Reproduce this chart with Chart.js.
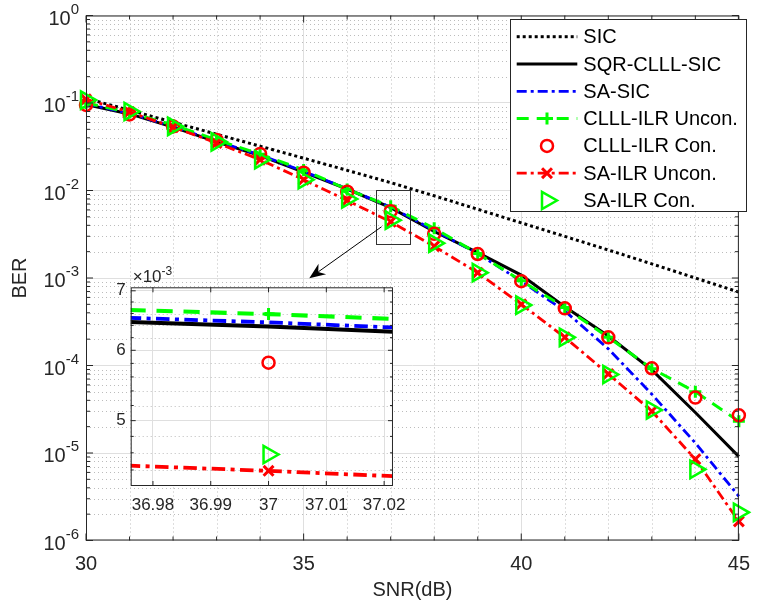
<!DOCTYPE html>
<html>
<head>
<meta charset="utf-8">
<title>BER vs SNR</title>
<script src="https://cdn.jsdelivr.net/npm/chart.js@4.4.1/dist/chart.umd.min.js"></script>
<style>
  html, body { margin: 0; padding: 0; background: #fff; }
  #wrap { position: relative; width: 762px; height: 605px; }
  #berChart { position: absolute; left: 0; top: 0; }
  #zoomChart { position: absolute; left: 100px; top: 262px; }
</style>
</head>
<body>
<div id="wrap">
  <canvas id="berChart" width="762" height="605"></canvas>
  <canvas id="zoomChart" width="315" height="258"></canvas>
</div>
<script>
// SNR points (dB)
const snr = [30, 31, 32, 33, 34, 35, 36, 37, 38, 39, 40, 41, 42, 43, 44, 45];

// BER per detector
const sic          = [0.113, 0.0826, 0.0603, 0.044, 0.0321, 0.0234, 0.017, 0.0123, 0.0087, 0.0061, 0.00427, 0.00299, 0.00209, 0.00145, 0.0010, 0.00069];
const sqrClllSic   = [0.096, 0.075, 0.053, 0.036, 0.025, 0.0162, 0.0104, 0.00638, 0.0034, 0.00195, 0.00108, 0.00047, 0.000217, 0.000089, 0.000029, 0.0000091];
const saSic        = [0.098, 0.076, 0.054, 0.0365, 0.0255, 0.0165, 0.0105, 0.00645, 0.0035, 0.0019, 0.00092, 0.00042, 0.000155, 0.000047, 0.000013, 0.0000032];
const clllIlrUncon = [0.1, 0.078, 0.056, 0.038, 0.026, 0.0172, 0.0103, 0.00659, 0.0037, 0.0019, 0.00093, 0.00046, 0.00021, 0.000092, 0.00005, 0.000023];
const clllIlrCon   = [0.095, 0.074, 0.054, 0.0378, 0.0262, 0.016, 0.0097, 0.00581, 0.0032, 0.00188, 0.00092, 0.00045, 0.00021, 0.000093, 0.000043, 0.000027];
const saIlrUncon   = [0.11, 0.079, 0.053, 0.035, 0.0225, 0.0133, 0.0077, 0.00439, 0.0023, 0.00115, 0.0005, 0.00021, 0.00008, 0.00003, 0.0000085, 0.00000165];
const saIlrCon     = [0.108, 0.08, 0.054, 0.036, 0.0225, 0.0133, 0.008, 0.00458, 0.0025, 0.00115, 0.00049, 0.00021, 0.000079, 0.000031, 0.0000065, 0.0000021];

const seriesLabels = ['SIC', 'SQR-CLLL-SIC', 'SA-SIC', 'CLLL-ILR Uncon.', 'CLLL-ILR Con.', 'SA-ILR Uncon.', 'SA-ILR Con.'];
const seriesValues = [sic, sqrClllSic, saSic, clllIlrUncon, clllIlrCon, saIlrUncon, saIlrCon];

// axis ticks
const xTicks = [30, 35, 40, 45];
const yTicks = [1e-6, 1e-5, 1e-4, 1e-3, 1e-2, 1e-1, 1];
const zoomXTicks = [36.98, 36.99, 37, 37.01, 37.02];
const zoomYTicks = [5e-3, 6e-3, 7e-3];

// zoom window marked on the main plot and the arrow to the inset
const zoomBox = { xMin: 36.66, xMax: 37.44, yMin: 0.00243, yMax: 0.01014 };
const arrowFrom = { x: 36.79, y: 0.00385 };
const arrowTo = { x: 35.13, y: 0.000993 };

const FONT = "'Liberation Sans', Arial, Helvetica, sans-serif";
const TEXT = '#262626';
const GRID = '#dfdfdf';
const MINOR = '#bcbcbc';

const seriesStyles = [
  { color: '#000000', width: 3, dash: [3, 3] },
  { color: '#000000', width: 3, dash: [] },
  { color: '#0000ff', width: 2.8, dash: [10, 4, 3, 4] },
  { color: '#00ff00', width: 3, dash: [12, 8], marker: 'cross', size: 6 },
  { color: '#ff0000', width: 2.5, line: false, marker: 'circle', size: 6 },
  { color: '#ff0000', width: 2.8, dash: [10, 4, 3, 4], marker: 'crossRot', size: 7, markerWidth: 3 },
  { color: '#00ff00', width: 2.5, line: false, marker: 'triangle', size: 10, rotation: 90 }
];

// lineScale thickens lines (not markers) for the close-up view
function buildDatasets(clip, lineScale) {
  return seriesLabels.map((label, i) => {
    const s = seriesStyles[i];
    return {
      label,
      data: snr.map((x, k) => ({ x, y: seriesValues[i][k] })),
      showLine: s.line !== false,
      borderColor: s.color,
      borderWidth: s.width * lineScale,
      borderDash: (s.dash || []).map(d => d * lineScale),
      borderCapStyle: 'butt',
      tension: 0,
      fill: false,
      pointStyle: s.marker || 'circle',
      pointRadius: s.marker ? s.size : 0,
      pointBorderColor: s.color,
      pointBackgroundColor: 'rgba(0,0,0,0)',
      pointBorderWidth: s.markerWidth || s.width,
      pointRotation: s.rotation || 0,
      clip,
      order: seriesLabels.length - 1 - i
    };
  });
}

function hLine(ctx, x0, x1, y) {
  ctx.beginPath(); ctx.moveTo(x0, y); ctx.lineTo(x1, y); ctx.stroke();
}
function vLine(ctx, x, y0, y1) {
  ctx.beginPath(); ctx.moveTo(x, y0); ctx.lineTo(x, y1); ctx.stroke();
}

function drawArrow(ctx, x0, y0, x1, y1) {
  const ang = Math.atan2(y1 - y0, x1 - x0);
  const c = Math.cos(ang), s = Math.sin(ang);
  const len = 16, half = 6.5, back = 11;
  ctx.beginPath();
  ctx.moveTo(x0, y0);
  ctx.lineTo(x1 - c * back, y1 - s * back);
  ctx.stroke();
  const bx = x1 - c * len, by = y1 - s * len;
  ctx.beginPath();
  ctx.moveTo(x1, y1);
  ctx.lineTo(bx - s * half, by + c * half);
  ctx.lineTo(x1 - c * back, y1 - s * back);
  ctx.lineTo(bx + s * half, by - c * half);
  ctx.closePath();
  ctx.fill();
}

// inward tick marks on all four sides
function drawTickMarks(ctx, a, xs, ys, len) {
  xs.forEach(px => { vLine(ctx, px, a.bottom, a.bottom - len); vLine(ctx, px, a.top, a.top + len); });
  ys.forEach(py => { hLine(ctx, a.left, a.left + len, py); hLine(ctx, a.right, a.right - len, py); });
}

const berFrame = {
  id: 'berFrame',
  beforeDatasetsDraw(chart) {
    const { ctx, chartArea: a, scales: { x, y } } = chart;
    ctx.save();
    ctx.strokeStyle = MINOR;
    ctx.lineWidth = 1;
    ctx.setLineDash([1, 3]);
    for (let v = 31; v < 45; v++) {
      if (v % 5 === 0) continue;
      vLine(ctx, Math.round(x.getPixelForValue(v)) + 0.5, a.top, a.bottom);
    }
    for (let e = -6; e < 0; e++) {
      for (let m = 2; m <= 9; m++) {
        hLine(ctx, a.left, a.right, Math.round(y.getPixelForValue(m * Math.pow(10, e))) + 0.5);
      }
    }
    ctx.restore();
  },
  afterDatasetsDraw(chart) {
    const { ctx, chartArea: a, scales: { x, y } } = chart;
    ctx.save();
    ctx.setLineDash([]);
    ctx.strokeStyle = TEXT;
    ctx.lineWidth = 1;

    // minor and major tick marks
    const minorX = [], minorY = [];
    for (let v = 31; v < 45; v++) if (v % 5) minorX.push(x.getPixelForValue(v));
    for (let e = -6; e < 0; e++) for (let m = 2; m <= 9; m++) minorY.push(y.getPixelForValue(m * Math.pow(10, e)));
    drawTickMarks(ctx, a, minorX, minorY, 4);
    drawTickMarks(ctx, a, xTicks.map(v => x.getPixelForValue(v)), yTicks.map(v => y.getPixelForValue(v)), 7);
    ctx.strokeRect(a.left + 0.5, a.top + 0.5, a.right - a.left - 1, a.bottom - a.top - 1);

    // y tick labels as powers of ten
    ctx.fillStyle = TEXT;
    ctx.textBaseline = 'alphabetic';
    yTicks.forEach(v => {
      const py = y.getPixelForValue(v);
      const exp = String(Math.round(Math.log10(v)));
      const right = a.left - 7;
      ctx.font = `15px ${FONT}`;
      const ew = ctx.measureText(exp).width;
      ctx.textAlign = 'left';
      ctx.fillText(exp, right - ew, py - 2);
      ctx.font = `20px ${FONT}`;
      ctx.textAlign = 'right';
      ctx.fillText('10', right - ew, py + 9);
    });

    // zoom window and arrow
    ctx.strokeStyle = '#333333';
    const rx0 = x.getPixelForValue(zoomBox.xMin), rx1 = x.getPixelForValue(zoomBox.xMax);
    const ry0 = y.getPixelForValue(zoomBox.yMax), ry1 = y.getPixelForValue(zoomBox.yMin);
    ctx.strokeRect(Math.round(rx0) + 0.5, Math.round(ry0) + 0.5, Math.round(rx1 - rx0), Math.round(ry1 - ry0));
    ctx.strokeStyle = '#000000';
    ctx.fillStyle = '#000000';
    drawArrow(ctx, x.getPixelForValue(arrowFrom.x), y.getPixelForValue(arrowFrom.y),
      x.getPixelForValue(arrowTo.x), y.getPixelForValue(arrowTo.y));

    // legend
    const lx0 = 510.5, ly0 = 19.5, lx1 = 746.5, ly1 = 211.5;
    ctx.fillStyle = '#ffffff';
    ctx.fillRect(lx0, ly0, lx1 - lx0, ly1 - ly0);
    ctx.strokeStyle = TEXT;
    ctx.lineWidth = 1;
    ctx.strokeRect(lx0, ly0, lx1 - lx0, ly1 - ly0);
    chart.data.datasets.forEach((ds, i) => {
      const s = seriesStyles[i];
      const cy = 36.7 + 27.3 * i;
      ctx.strokeStyle = s.color;
      if (s.line !== false) {
        ctx.lineWidth = s.width;
        ctx.lineCap = 'butt';
        ctx.setLineDash(s.dash || []);
        hLine(ctx, 516.7, 577.3, cy);
      }
      if (s.marker) {
        ctx.setLineDash([]);
        ctx.lineWidth = s.markerWidth || s.width;
        ctx.fillStyle = 'rgba(0,0,0,0)';
        Chart.helpers.drawPoint(ctx, {
          pointStyle: s.marker, radius: s.size, rotation: s.rotation || 0,
          borderWidth: s.markerWidth || s.width
        }, 547, cy);
      }
      ctx.fillStyle = '#000000';
      ctx.font = `20px ${FONT}`;
      ctx.textAlign = 'left';
      ctx.textBaseline = 'middle';
      ctx.fillText(ds.label, 583.3, cy + 1);
    });
    ctx.restore();
  }
};

new Chart(document.getElementById('berChart'), {
  type: 'line',
  data: { datasets: buildDatasets(false, 1) },
  options: {
    responsive: false,
    animation: false,
    events: [],
    layout: { padding: { top: 15.5, right: 11, bottom: 0, left: 0 } },
    plugins: { legend: { display: false }, tooltip: { enabled: false } },
    scales: {
      x: {
        type: 'linear', min: 30, max: 45,
        afterBuildTicks: s => { s.ticks = xTicks.map(v => ({ value: v })); },
        afterFit: s => { s.height = 64.5; },
        grid: { color: GRID, lineWidth: 1, drawTicks: false },
        border: { display: false },
        ticks: { font: { family: FONT, size: 20 }, color: TEXT, padding: 12, maxRotation: 0, callback: v => String(v) },
        title: { display: true, text: 'SNR(dB)', color: TEXT, padding: 0, font: { family: FONT, size: 20, lineHeight: 1.5 } }
      },
      y: {
        type: 'logarithmic', min: 1e-6, max: 1,
        afterBuildTicks: s => { s.ticks = yTicks.map(v => ({ value: v })); },
        afterFit: s => { s.width = 86; },
        grid: { color: GRID, lineWidth: 1, drawTicks: false },
        border: { display: false },
        ticks: { callback: () => '' },
        title: { display: true, text: 'BER', color: TEXT, padding: 0, font: { family: FONT, size: 20, lineHeight: 2 } }
      }
    }
  },
  plugins: [berFrame]
});

// inset: close-up around SNR = 37 dB
const zoomFrame = {
  id: 'zoomFrame',
  beforeDraw(chart) {
    const { ctx, chartArea: a } = chart;
    ctx.save();
    ctx.fillStyle = '#ffffff';
    ctx.fillRect(a.left, a.top, a.right - a.left, a.bottom - a.top);
    ctx.restore();
  },
  beforeDatasetsDraw(chart) {
    const { ctx, chartArea: a, scales: { y } } = chart;
    ctx.save();
    ctx.strokeStyle = MINOR;
    ctx.lineWidth = 1;
    ctx.setLineDash([1, 3]);
    for (let k = 21; k <= 36; k++) {
      const v = k * 2e-4;
      if (k % 5 === 0 || v < y.min || v > y.max) continue;
      hLine(ctx, a.left, a.right, Math.round(y.getPixelForValue(v)) + 0.5);
    }
    ctx.restore();
  },
  afterDatasetsDraw(chart) {
    const { ctx, chartArea: a, scales: { x, y } } = chart;
    ctx.save();
    ctx.strokeStyle = TEXT;
    ctx.lineWidth = 1;
    const minorY = [];
    for (let k = 21; k <= 36; k++) {
      const v = k * 2e-4;
      if (k % 5 === 0 || v < y.min || v > y.max) continue;
      minorY.push(y.getPixelForValue(v));
    }
    drawTickMarks(ctx, a, [], minorY, 3);
    drawTickMarks(ctx, a, zoomXTicks.map(v => x.getPixelForValue(v)), zoomYTicks.map(v => y.getPixelForValue(v)), 5);
    ctx.strokeRect(a.left + 0.5, a.top + 0.5, a.right - a.left - 1, a.bottom - a.top - 1);

    // exponent note above the axis
    ctx.fillStyle = TEXT;
    ctx.textAlign = 'left';
    ctx.textBaseline = 'alphabetic';
    ctx.font = `17px ${FONT}`;
    ctx.fillText('×10', a.left + 2, a.top - 5);
    const w = ctx.measureText('×10').width;
    ctx.font = `12px ${FONT}`;
    ctx.fillText('-3', a.left + 2 + w, a.top - 12);
    ctx.restore();
  }
};

new Chart(document.getElementById('zoomChart'), {
  type: 'line',
  data: { datasets: buildDatasets(0, 1.35) },
  options: {
    responsive: false,
    animation: false,
    events: [],
    layout: { padding: { top: 25.3, right: 17.7, bottom: 0, left: 0 } },
    plugins: { legend: { display: false }, tooltip: { enabled: false } },
    scales: {
      x: {
        type: 'linear', min: 36.97615, max: 37.02153,
        afterBuildTicks: s => { s.ticks = zoomXTicks.map(v => ({ value: v })); },
        afterFit: s => { s.height = 34; },
        grid: { color: GRID, lineWidth: 1, drawTicks: false },
        border: { display: false },
        ticks: { font: { family: FONT, size: 17 }, color: TEXT, padding: 9, maxRotation: 0, callback: v => String(+v.toFixed(2)) }
      },
      y: {
        type: 'logarithmic', min: 4.221e-3, max: 7.064e-3,
        afterBuildTicks: s => { s.ticks = zoomYTicks.map(v => ({ value: v })); },
        afterFit: s => { s.width = 30.7; },
        grid: { color: GRID, lineWidth: 1, drawTicks: false },
        border: { display: false },
        ticks: { font: { family: FONT, size: 17 }, color: TEXT, padding: 5, callback: v => String(Math.round(v * 1000)) }
      }
    }
  },
  plugins: [zoomFrame]
});
</script>
</body>
</html>
